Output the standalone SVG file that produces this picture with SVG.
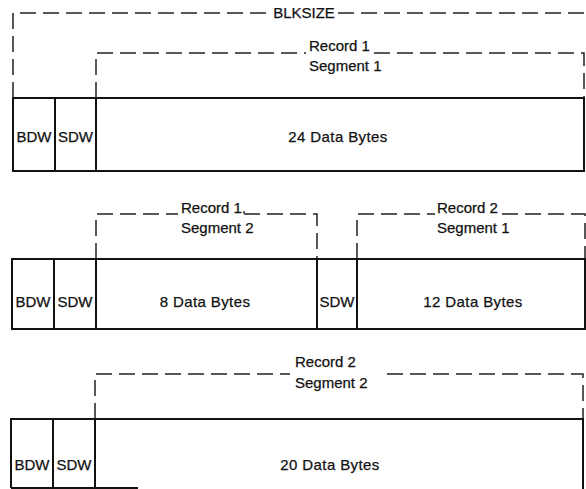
<svg xmlns="http://www.w3.org/2000/svg" width="586" height="489" viewBox="0 0 586 489">
<style>
.box{fill:none;stroke:#111;stroke-width:2}
.dash{fill:none;stroke:#222;stroke-width:1.5;stroke-dasharray:16 7}
text{font-family:"Liberation Sans",Arial,sans-serif;font-size:15px;fill:#111;stroke:#111;stroke-width:0.25}
.m{text-anchor:middle}
</style>
<rect width="586" height="489" fill="#fff"/>
<g id="connectors">
<path class="dash" d="M13,98 V13 H271"/>
<path class="dash" d="M338,13 H586"/>
<path class="dash" d="M96,98 V53 H306"/>
<path class="dash" d="M374,53 H584 V98"/>
<path class="dash" d="M96,259 V214 H178"/>
<path class="dash" d="M244,214 H317 V259"/>
<path class="dash" d="M357,259 V214 H435"/>
<path class="dash" d="M502,214 H585 V259"/>
<path class="dash" d="M95,419 V374 H290"/>
<path class="dash" d="M387,374 H583 V419"/>
</g>
<g id="blksize"><text x="304" y="18" class="m">BLKSIZE</text></g>
<g id="block1">
<rect class="box" x="13" y="98" width="571" height="73"/>
<line class="box" x1="55" y1="98" x2="55" y2="171"/>
<line class="box" x1="96" y1="98" x2="96" y2="171"/>
<text x="34" y="142" class="m">BDW</text>
<text x="75.5" y="142" class="m">SDW</text>
<text x="338" y="142" class="m" letter-spacing="0.4">24 Data Bytes</text>
</g>
<g id="rec1seg1"><text x="309" y="51">Record 1</text><text x="309" y="71">Segment 1</text></g>
<g id="block2">
<rect class="box" x="12" y="259" width="573" height="70"/>
<line class="box" x1="54" y1="259" x2="54" y2="329"/>
<line class="box" x1="96" y1="259" x2="96" y2="329"/>
<line class="box" x1="317" y1="259" x2="317" y2="329"/>
<line class="box" x1="357" y1="259" x2="357" y2="329"/>
<text x="33" y="307" class="m">BDW</text>
<text x="75" y="307" class="m">SDW</text>
<text x="205" y="307" class="m" letter-spacing="0.4">8 Data Bytes</text>
<text x="337" y="307" class="m">SDW</text>
<text x="473" y="307" class="m" letter-spacing="0.4">12 Data Bytes</text>
</g>
<g id="rec1seg2"><text x="181" y="213">Record 1.</text><text x="181" y="233">Segment 2</text></g>
<g id="rec2seg1"><text x="437" y="213">Record 2</text><text x="437" y="233">Segment 1</text></g>
<g id="block3">
<path class="box" d="M11,488 V419 H583 V489"/>
<line class="box" x1="11" y1="488" x2="138" y2="488"/>
<line class="box" x1="53" y1="419" x2="53" y2="488"/>
<line class="box" x1="95" y1="419" x2="95" y2="488"/>
<text x="32" y="470" class="m">BDW</text>
<text x="74" y="470" class="m">SDW</text>
<text x="330" y="470" class="m" letter-spacing="0.4">20 Data Bytes</text>
</g>
<g id="rec2seg2"><text x="295" y="367">Record 2</text><text x="295" y="388">Segment 2</text></g>
</svg>
